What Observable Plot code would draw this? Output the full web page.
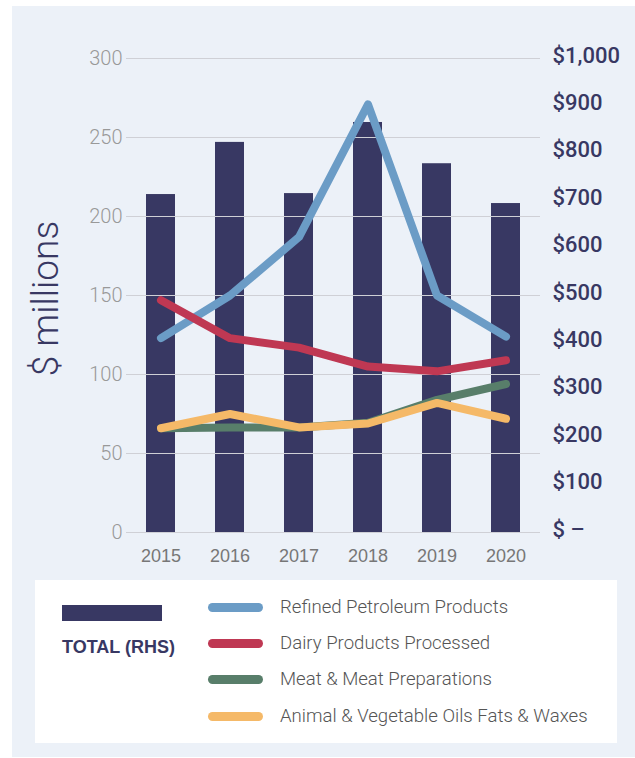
<!DOCTYPE html>
<html>
<head>
<meta charset="utf-8">
<script src="https://cdn.jsdelivr.net/npm/d3@7"></script>
<script src="https://cdn.jsdelivr.net/npm/@observablehq/plot@0.6"></script>
<style>
  html, body { margin: 0; padding: 0; background: #ffffff; }
  body { width: 635px; height: 758px; position: relative; overflow: hidden;
         font-family: "Liberation Sans", Arial, Helvetica, sans-serif; }
  #panel { position: absolute; left: 12px; top: 6px; width: 623px; height: 751px; background: #ecf1f8; }
  #chart { position: absolute; left: 0; top: 0; }
  #legend { position: absolute; left: 35px; top: 580px; width: 582px; height: 163px; background: #ffffff; }
  .sw { position: absolute; left: 173px; width: 55px; height: 9px; border-radius: 5px; }
  .lt { position: absolute; left: 245px; font-size: 18.6px; color: #555; line-height: 20px; white-space: nowrap; }
  .light { font-family: Roboto, "Liberation Sans", Arial, sans-serif; font-weight: 300; }
</style>
</head>
<body>
<div id="panel"></div>
<div id="chart"></div>
<div id="legend"></div>
<script>
// ---- data ----
const years = ["2015", "2016", "2017", "2018", "2019", "2020"];
const total = [713, 823, 715, 865, 778, 694];          // RHS, $ millions
const petroleum = [123, 150, 187, 271, 150, 124];
const dairy = [147, 123, 117, 105, 102, 109];
const meat = [66, 66.5, 66.5, 69.5, 84, 94];
const oils = [66, 75, 66.5, 69, 82, 72];
const seriesNames = ["Refined Petroleum Products", "Dairy Products Processed", "Meat & Meat Preparations", "Animal & Vegetable Oils Fats & Waxes"];
const seriesColors = ["#6b9cc6", "#bf3853", "#587e6a", "#f5b968"];
const leftTicks = [0, 50, 100, 150, 200, 250, 300];
const rightTicks = [0, 100, 200, 300, 400, 500, 600, 700, 800, 900, 1000];
const rightTickLabels = ["$ \u2013", "$100", "$200", "$300", "$400", "$500", "$600", "$700", "$800", "$900", "$1,000"];
const totalLabel = "TOTAL (RHS)";
const yLabel = "$ millions";

const navy = "#383863";
const toLeft = v => v * 300 / 1000;   // map RHS (0–1000) onto LHS (0–300)

const bars = years.map((y, i) => ({year: y, total: total[i]}));
const seriesValues = [petroleum, dairy, meat, oils];
const lines = seriesNames.flatMap((name, s) => years.map((y, i) => ({year: y, value: seriesValues[s][i], name})));

const chart = Plot.plot({
  width: 635,
  height: 575,
  marginTop: 58,
  marginBottom: 43,
  marginLeft: 126,
  marginRight: 95,
  style: {background: "transparent", fontFamily: "'Liberation Sans', Arial, Helvetica, sans-serif"},
  x: {domain: years, paddingInner: 0.58, paddingOuter: 0.29, label: null},
  y: {domain: [0, 300], label: null},
  color: {domain: seriesNames, range: seriesColors},
  marks: [
    Plot.barY(bars, {x: "year", y: d => toLeft(d.total), fill: navy}),
    Plot.gridY(leftTicks, {stroke: "#cfd0d6", strokeOpacity: 1, strokeWidth: 1}),
    Plot.axisY(leftTicks, {anchor: "left", tickSize: 0, tickPadding: 4, fontSize: 20, fontFamily: "Roboto, 'Liberation Sans', sans-serif", fontWeight: 300, color: "#999999"}),
    Plot.axisY(rightTicks.map(toLeft), {anchor: "right", tickSize: 0, tickPadding: 12, dy: -3, fontSize: 22, fontFamily: "Roboto, 'Liberation Sans', sans-serif", fontWeight: 500, color: navy,
      tickFormat: d => rightTickLabels[rightTicks.indexOf(Math.round(d * 1000 / 300))]}),
    Plot.axisX({tickSize: 0, tickPadding: 17, fontSize: 18, color: "#777777"}),
    Plot.lineY(lines, {x: "year", y: "value", z: "name", stroke: "name", strokeWidth: 8, strokeLinecap: "round", strokeLinejoin: "round"}),
    Plot.text([yLabel], {text: d => d, frameAnchor: "left", textAnchor: "middle", rotate: -90, dx: -80, dy: 3, fontSize: 37, fontFamily: "Roboto, 'Liberation Sans', sans-serif", fontWeight: 300, fill: navy})
  ]
});
document.getElementById("chart").appendChild(chart);

// ---- legend ----
const legend = document.getElementById("legend");
const totSw = document.createElement("div");
Object.assign(totSw.style, {position: "absolute", left: "27px", top: "25px", width: "100px", height: "16px", background: navy});
legend.appendChild(totSw);
const totTxt = document.createElement("div");
totTxt.textContent = totalLabel;
Object.assign(totTxt.style, {position: "absolute", left: "27px", top: "57px", fontSize: "18px", fontWeight: "bold", color: navy, lineHeight: "20px"});
legend.appendChild(totTxt);
const rowY = [27, 63, 99, 136];
seriesNames.forEach((name, i) => {
  const sw = document.createElement("div");
  sw.className = "sw";
  sw.style.top = (rowY[i] - 4.5) + "px";
  sw.style.background = seriesColors[i];
  legend.appendChild(sw);
  const t = document.createElement("div");
  t.className = "lt light";
  t.style.top = (rowY[i] - 10) + "px";
  t.textContent = name;
  legend.appendChild(t);
});
</script>
</body>
</html>
